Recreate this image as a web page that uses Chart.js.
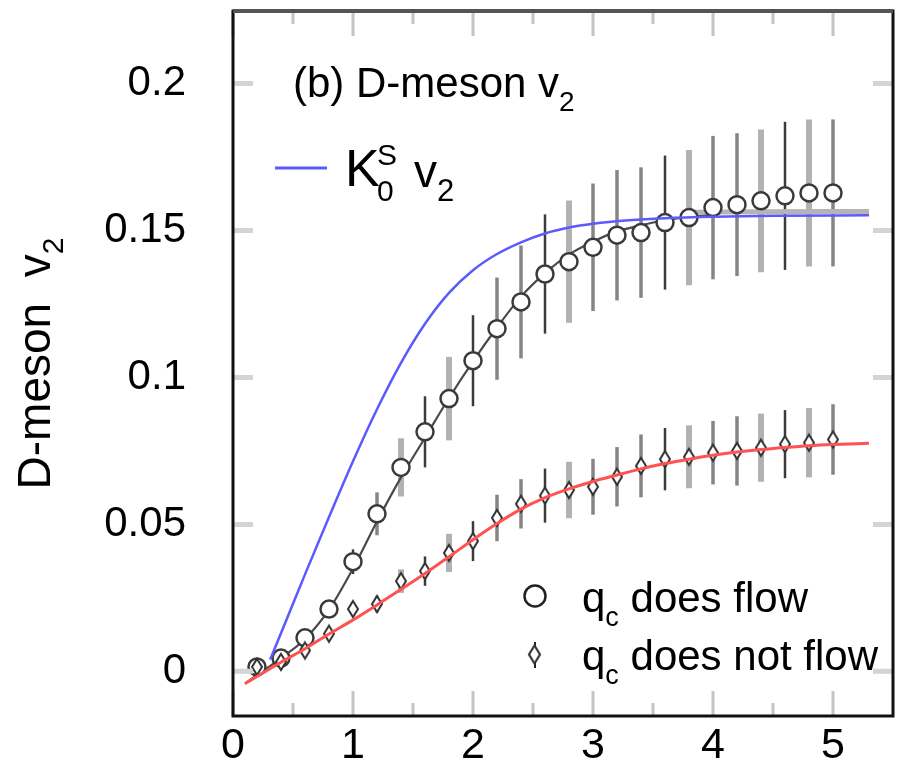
<!DOCTYPE html>
<html>
<head>
<meta charset="utf-8">
<script src="https://cdn.jsdelivr.net/npm/chart.js@4.4.1/dist/chart.umd.min.js"></script>
<style>
  html, body { margin: 0; padding: 0; background: #fff; }
</style>
</head>
<body>
<canvas id="grafica" width="904" height="764"></canvas>
<script>
// puntos de pT (GeV/c)
const ptX = [0.2, 0.4, 0.6, 0.8, 1.0, 1.2, 1.4, 1.6, 1.8, 2.0, 2.2, 2.4, 2.6, 2.8, 3.0,
             3.2, 3.4, 3.6, 3.8, 4.0, 4.2, 4.4, 4.6, 4.8, 5.0];

// q_c does flow (circulos)
const flowV2 = [0.0015, 0.0045, 0.0114, 0.0212, 0.0373, 0.0536, 0.0694, 0.0815, 0.0928, 0.1057,
                0.1166, 0.1257, 0.1352, 0.1394, 0.1443, 0.1484, 0.1493, 0.1527, 0.1544, 0.1578,
                0.1588, 0.1601, 0.1618, 0.1628, 0.1628];
const flowErr = [0.0008, 0.001, 0.0015, 0.002, 0.0042, 0.0073, 0.0099, 0.0121, 0.0142, 0.0155,
                 0.0174, 0.0192, 0.0203, 0.0208, 0.0217, 0.0222, 0.0222, 0.0228, 0.023, 0.0244,
                 0.0243, 0.0243, 0.0252, 0.025, 0.025];

// q_c does not flow (rombos)
const noFlowV2 = [0.0015, 0.0032, 0.0071, 0.0128, 0.0212, 0.0229, 0.0307, 0.0341, 0.0403, 0.0443,
                  0.0522, 0.0570, 0.0598, 0.0617, 0.0628, 0.0662, 0.0699, 0.0722, 0.0730, 0.0744,
                  0.0750, 0.0761, 0.0773, 0.0778, 0.0789];
const noFlowErr = [0.0006, 0.001, 0.0015, 0.002, 0.0025, 0.0028, 0.004, 0.005, 0.0065, 0.0068,
                   0.0079, 0.0084, 0.0092, 0.0096, 0.0095, 0.0101, 0.0107, 0.0106, 0.0107, 0.0108,
                   0.0118, 0.0116, 0.0116, 0.0118, 0.012];

// tipo de barra de error en cada punto: d = oscura fina, m = media, l = gris gruesa
const errTipo = ["m", "m", "m", "m", "d", "m", "l", "d", "l", "d", "m", "m", "d", "l", "m",
                 "m", "m", "d", "l", "m", "m", "l", "d", "l", "m"];

// curva K0S v2 (azul)
const kaonX = [0.31, 0.45, 0.6, 0.8, 1.0, 1.2, 1.4, 1.6, 1.8, 2.0, 2.2, 2.4, 2.6, 2.8, 3.0,
               3.3, 3.6, 4.0, 4.5, 5.3];
const kaonV2 = [0.004, 0.018, 0.033, 0.0525, 0.0715, 0.0892, 0.105, 0.1183, 0.1288, 0.1365,
                0.142, 0.146, 0.149, 0.151, 0.1523, 0.1535, 0.1542, 0.1547, 0.155, 0.1552];

// ajuste sobre los circulos (negro)
const flowFitX = [0.1, 0.4, 0.6, 0.8, 1.0, 1.2, 1.4, 1.6, 1.8, 2.0, 2.2, 2.4, 2.6, 2.8, 3.0,
                  3.2, 3.4, 3.6, 3.8, 4.0];
const flowFitV2 = [-0.0042, 0.0045, 0.011, 0.021, 0.035, 0.051, 0.066, 0.0795, 0.093, 0.1055,
                   0.117, 0.1275, 0.1355, 0.1418, 0.1462, 0.1497, 0.1518, 0.1535, 0.1546, 0.1555];
// tramo gris del ajuste a alto pT
const bandaX = [3.8, 4.4, 5.0, 5.3];
const bandaV2 = [0.1562, 0.1564, 0.1565, 0.1565];

// ajuste sobre los rombos (rojo)
const noFlowFitX = [0.1, 0.4, 0.6, 0.8, 1.0, 1.2, 1.4, 1.6, 1.8, 2.0, 2.2, 2.4, 2.6, 2.8, 3.0,
                    3.2, 3.4, 3.6, 3.8, 4.0, 4.2, 4.4, 4.6, 4.8, 5.0, 5.3];
const noFlowFitV2 = [-0.0042, 0.0031, 0.0077, 0.0127, 0.0175, 0.0226, 0.0279, 0.0333, 0.039, 0.0448,
                     0.0503, 0.0552, 0.0591, 0.0621, 0.0646, 0.0668, 0.0689, 0.0707, 0.0722, 0.0735,
                     0.0746, 0.0755, 0.0762, 0.0768, 0.0772, 0.0776];

// ejes
const xTicks = [0, 1, 2, 3, 4, 5];
const xTickLabels = ["0", "1", "2", "3", "4", "5"];
const xMinor = [0.5, 1.5, 2.5, 3.5, 4.5];
const yTicks = [0, 0.05, 0.1, 0.15, 0.2];
const yTickLabels = ["0", "0.05", "0.1", "0.15", "0.2"];

const FUENTE = '"Liberation Sans", Arial, Helvetica, sans-serif';

function pares(xs, ys) {
    return xs.map((x, i) => ({ x: x, y: ys[i] }));
}

function hacerRombo(w, h, lw) {
    const c = document.createElement("canvas");
    c.width = w + lw * 2 + 2;
    c.height = h + lw * 2 + 2;
    const g = c.getContext("2d");
    const cx = c.width / 2, cy = c.height / 2;
    g.beginPath();
    g.moveTo(cx, cy - h / 2);
    g.lineTo(cx + w / 2, cy);
    g.lineTo(cx, cy + h / 2);
    g.lineTo(cx - w / 2, cy);
    g.closePath();
    g.fillStyle = "#fff";
    g.fill();
    g.lineWidth = lw;
    g.strokeStyle = "#333";
    g.stroke();
    return c;
}

const rombo = hacerRombo(10, 16, 2);

// escribe trozos de texto seguidos: [texto, tamaño, desplazamiento vertical]
function escribir(ctx, partes, x, y) {
    let cx = x;
    partes.forEach(([t, size, dy]) => {
        ctx.font = size + "px " + FUENTE;
        ctx.fillText(t, cx, y + dy);
        cx += ctx.measureText(t).width;
    });
    return cx;
}

function anchoPartes(ctx, partes) {
    let w = 0;
    partes.forEach(([t, size]) => {
        ctx.font = size + "px " + FUENTE;
        w += ctx.measureText(t).width;
    });
    return w;
}

const estilosErr = {
    d: { color: "#3c3c3c", ancho: 2.5 },
    m: { color: "#858585", ancho: 3.5 },
    l: { color: "#b2b2b2", ancho: 6 }
};

// quita el relleno que Chart.js reserva para las etiquetas de los extremos
function sinRelleno(s) {
    s.paddingTop = 0;
    s.paddingBottom = 0;
    s.paddingLeft = 0;
    s.paddingRight = 0;
}

const decorado = {
    id: "decorado",
    beforeDatasetsDraw(chart) {
        const ctx = chart.ctx;
        const xs = chart.scales.x, ys = chart.scales.y;
        const area = chart.chartArea;
        ctx.save();
        ctx.beginPath();
        ctx.rect(area.left, area.top, area.right - area.left, area.bottom - area.top);
        ctx.clip();
        // barras de error
        [[flowV2, flowErr], [noFlowV2, noFlowErr]].forEach(([vals, errs]) => {
            ptX.forEach((x, i) => {
                const st = estilosErr[errTipo[i]];
                const px = xs.getPixelForValue(x);
                ctx.strokeStyle = st.color;
                ctx.lineWidth = st.ancho;
                ctx.beginPath();
                ctx.moveTo(px, ys.getPixelForValue(vals[i] - errs[i]));
                ctx.lineTo(px, ys.getPixelForValue(vals[i] + errs[i]));
                ctx.stroke();
            });
        });
        ctx.restore();
    },
    afterDatasetsDraw(chart) {
        const ctx = chart.ctx;
        const xs = chart.scales.x, ys = chart.scales.y;
        const a = chart.chartArea;
        ctx.save();
        // marcas interiores
        ctx.strokeStyle = "#c4c4c4";
        ctx.lineWidth = 3;
        xTicks.concat(xMinor).forEach(v => {
            const px = xs.getPixelForValue(v);
            const largo = xMinor.includes(v) ? 13 : 25;
            ctx.beginPath();
            ctx.moveTo(px, a.bottom);
            ctx.lineTo(px, a.bottom - largo);
            ctx.moveTo(px, a.top);
            ctx.lineTo(px, a.top + largo);
            ctx.stroke();
        });
        ctx.strokeStyle = "#d4d4d4";
        ctx.lineWidth = 5;
        yTicks.forEach(v => {
            const py = ys.getPixelForValue(v);
            ctx.beginPath();
            ctx.moveTo(a.left, py);
            ctx.lineTo(a.left + 20, py);
            ctx.moveTo(a.right, py);
            ctx.lineTo(a.right - 20, py);
            ctx.stroke();
        });
        // marco
        ctx.lineWidth = 3;
        ctx.strokeStyle = "#111";
        ctx.strokeRect(a.left, a.top, a.right - a.left, a.bottom - a.top);
        ctx.strokeStyle = "#555";
        ctx.lineWidth = 4;
        ctx.beginPath();
        ctx.moveTo(a.left, a.top);
        ctx.lineTo(a.right, a.top);
        ctx.stroke();
        ctx.restore();
    },
    afterDraw(chart) {
        const ctx = chart.ctx;
        const a = chart.chartArea;
        ctx.save();
        ctx.fillStyle = "#000";
        ctx.textBaseline = "alphabetic";
        ctx.textAlign = "left";

        // titulo del panel
        escribir(ctx, [["(b) D-meson v", 42, 0], ["2", 28, 14]], a.left + 60, 97);

        // K0S v2 con su linea azul
        ctx.strokeStyle = "#5a5aff";
        ctx.lineWidth = 3;
        ctx.beginPath();
        ctx.moveTo(a.left + 42, 168);
        ctx.lineTo(a.left + 94, 168);
        ctx.stroke();
        ctx.font = "52px " + FUENTE;
        ctx.fillText("K", a.left + 112, 186);
        ctx.font = "30px " + FUENTE;
        ctx.fillText("S", a.left + 144, 165);
        ctx.fillText("0", a.left + 144, 201);
        escribir(ctx, [["v", 46, 0], ["2", 31, 14]], a.left + 181, 187);

        // leyenda de los simbolos
        ctx.strokeStyle = "#222";
        ctx.lineWidth = 2.5;
        ctx.fillStyle = "#fff";
        ctx.beginPath();
        ctx.arc(535, 596, 10.5, 0, Math.PI * 2);
        ctx.fill();
        ctx.stroke();
        ctx.lineWidth = 2;
        ctx.beginPath();
        ctx.moveTo(535, 642);
        ctx.lineTo(535, 668);
        ctx.stroke();
        ctx.drawImage(hacerRombo(11, 18, 2.2), 535 - 9, 655 - 12.5);
        ctx.fillStyle = "#000";
        escribir(ctx, [["q", 42, 0], ["c", 27, 14], [" does flow", 42, 0]], 582, 612);
        escribir(ctx, [["q", 42, 0], ["c", 27, 14], [" does not flow", 42, 0]], 582, 670);

        // titulo del eje y
        const partes = [["D-meson  v", 46, 0], ["2", 30, 13]];
        const w = anchoPartes(ctx, partes);
        ctx.translate(50, (a.top + a.bottom) / 2);
        ctx.rotate(-Math.PI / 2);
        escribir(ctx, partes, -w / 2, 0);
        ctx.restore();
    }
};

const ctx = document.getElementById("grafica").getContext("2d");
new Chart(ctx, {
    type: "line",
    data: {
        datasets: [
            {
                data: pares(kaonX, kaonV2),
                borderColor: "#5a5aff",
                borderWidth: 2.5,
                pointRadius: 0,
                cubicInterpolationMode: "monotone",
                order: 1
            },
            {
                data: pares(noFlowFitX, noFlowFitV2),
                borderColor: "#ff5252",
                borderWidth: 3,
                pointRadius: 0,
                cubicInterpolationMode: "monotone",
                order: 2
            },
            {
                data: pares(ptX, noFlowV2),
                showLine: false,
                pointStyle: rombo,
                pointRadius: 7,
                order: 3
            },
            {
                data: pares(ptX, flowV2),
                showLine: false,
                pointStyle: "circle",
                pointRadius: 8.5,
                borderWidth: 2.5,
                borderColor: "#3a3a3a",
                backgroundColor: "#fff",
                order: 4
            },
            {
                data: pares(bandaX, bandaV2),
                borderColor: "#b4b4b4",
                borderWidth: 5,
                pointRadius: 0,
                order: 5
            },
            {
                data: pares(flowFitX, flowFitV2),
                borderColor: "#4a4a4a",
                borderWidth: 2.2,
                pointRadius: 0,
                cubicInterpolationMode: "monotone",
                order: 6
            }
        ]
    },
    options: {
        responsive: false,
        animation: false,
        events: [],
        layout: { padding: { top: 6, right: 5, left: 0, bottom: 0 } },
        plugins: {
            legend: { display: false },
            tooltip: { enabled: false }
        },
        scales: {
            x: {
                type: "linear",
                min: 0,
                max: 5.5,
                afterFit: s => { s.height = 48; sinRelleno(s); },
                afterBuildTicks: s => { s.ticks = xTicks.map(v => ({ value: v })); },
                grid: { display: false, drawTicks: false },
                border: { display: false },
                ticks: {
                    color: "#000",
                    padding: 4,
                    maxRotation: 0,
                    font: { size: 43, family: FUENTE },
                    callback: (v) => xTickLabels[xTicks.indexOf(v)]
                }
            },
            y: {
                type: "linear",
                min: -0.0152,
                max: 0.2247,
                afterFit: s => { s.width = 233; sinRelleno(s); },
                afterBuildTicks: s => { s.ticks = yTicks.map(v => ({ value: v })); },
                grid: { display: false, drawTicks: false },
                border: { display: false },
                ticks: {
                    color: "#000",
                    padding: 47,
                    font: { size: 42, family: FUENTE },
                    callback: (v) => yTickLabels[yTicks.indexOf(v)]
                }
            }
        }
    },
    plugins: [decorado]
});
</script>
</body>
</html>
